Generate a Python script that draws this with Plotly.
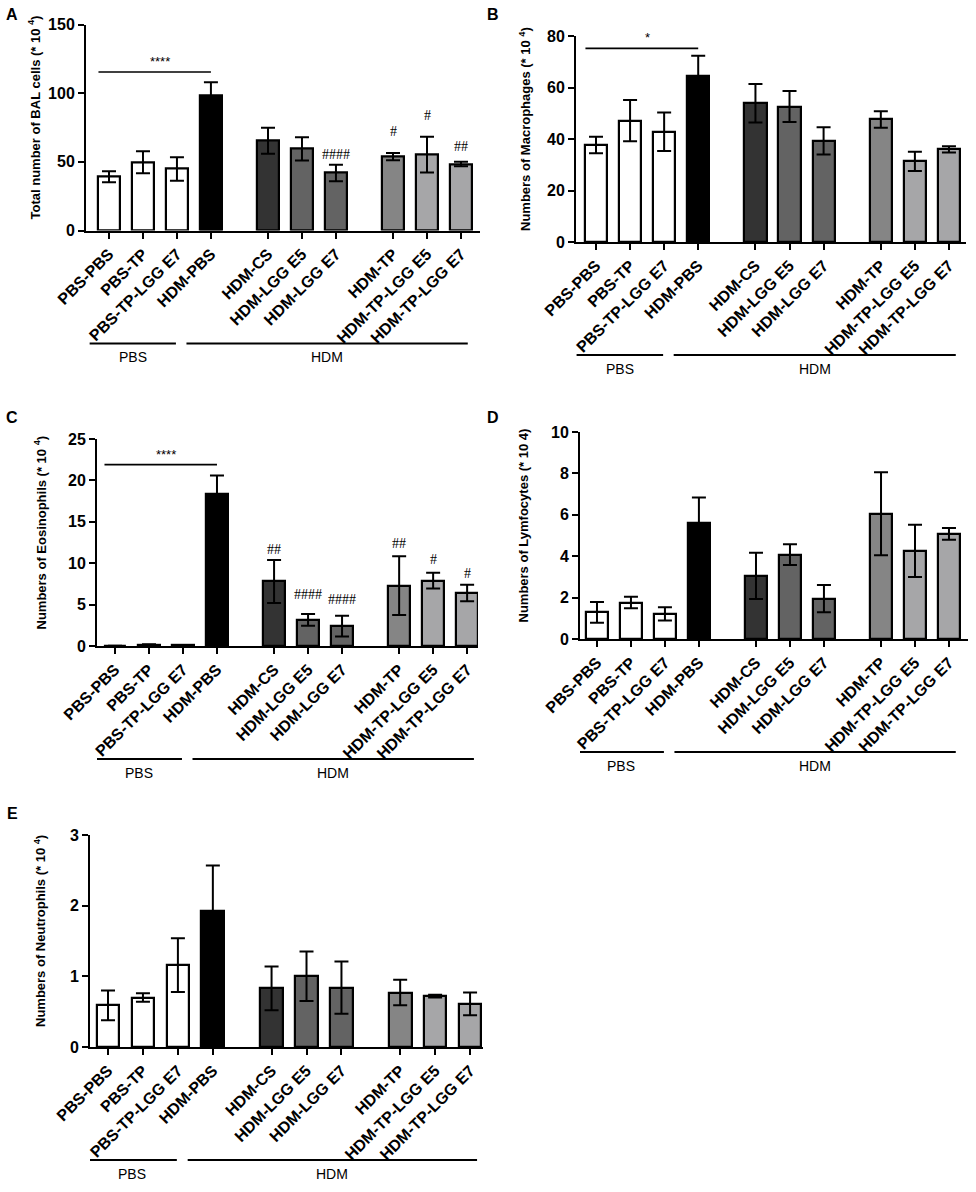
import plotly.graph_objects as go

W, H = 976, 1192

# ---- data (mean and SEM, units of 10^4 cells) ----
categories = ["PBS-PBS", "PBS-TP", "PBS-TP-LGG E7", "HDM-PBS", "HDM-CS",
              "HDM-LGG E5", "HDM-LGG E7", "HDM-TP", "HDM-TP-LGG E5", "HDM-TP-LGG E7"]
positions = [0, 1, 2, 3, 4.68, 5.68, 6.68, 8.36, 9.36, 10.36]
bar_colors = ["#ffffff", "#ffffff", "#ffffff", "#000000", "#333333",
              "#636363", "#636363", "#858585", "#a6a6a8", "#a6a6a8"]

bal_mean = [39.2, 49.7, 44.8, 98.0, 65.4, 59.4, 41.9, 53.8, 55.2, 48.4]
bal_sem = [4.0, 8.0, 8.5, 10.0, 9.5, 8.5, 6.0, 2.7, 13.0, 1.7]

mac_mean = [37.7, 47.1, 42.8, 64.3, 53.9, 52.6, 39.3, 47.6, 31.3, 36.0]
mac_sem = [3.2, 8.0, 7.5, 8.0, 7.5, 6.0, 5.3, 3.2, 3.7, 1.2]

eos_mean = [0.02, 0.15, 0.1, 18.4, 7.8, 3.15, 2.4, 7.3, 7.9, 6.4]
eos_sem = [0.0, 0.05, 0.03, 2.2, 2.6, 0.7, 1.25, 3.55, 0.95, 1.0]

lym_mean = [1.29, 1.76, 1.21, 5.58, 3.05, 4.08, 1.95, 6.05, 4.26, 5.08]
lym_sem = [0.5, 0.28, 0.32, 1.25, 1.12, 0.5, 0.66, 2.0, 1.26, 0.28]

neu_mean = [0.59, 0.70, 1.16, 1.93, 0.83, 1.00, 0.84, 0.77, 0.72, 0.61]
neu_sem = [0.21, 0.06, 0.38, 0.64, 0.31, 0.35, 0.37, 0.18, 0.02, 0.16]

groups = ["PBS", "HDM"]
group_span = [(-0.57, 1.97), (2.28, 10.56)]

# significance marks: (bar index, label, label height in data units)
bal_hash = [(6, "####", 55), (7, "#", 72), (8, "#", 84), (9, "##", 61.5)]
eos_hash = [(4, "##", 11.7), (5, "####", 6.2), (6, "####", 5.6),
            (7, "##", 12.4), (8, "#", 10.5), (9, "#", 8.8)]

panels = [
    dict(letter="A", title="Total number of BAL cells (* 10 <sup>4</sup>)",
         mean=bal_mean, sem=bal_sem, ymax=150, dtick=50,
         star="****", star_y=115.4, hashes=bal_hash,
         px=(86, 480), xr=(-0.677, 10.92), py=(24.5, 230.5),
         title_x=35, letter_xy=(12, 15)),
    dict(letter="B", title="Numbers of Macrophages (* 10 <sup>4</sup>)",
         mean=mac_mean, sem=mac_sem, ymax=80, dtick=20,
         star="*", star_y=75.2, hashes=[],
         px=(576, 966), xr=(-0.587, 10.86), py=(36, 242),
         title_x=525, letter_xy=(493, 15)),
    dict(letter="C", title="Numbers of Eosinophils (* 10 <sup>4</sup>)",
         mean=eos_mean, sem=eos_sem, ymax=25, dtick=5,
         star="****", star_y=21.9, hashes=eos_hash,
         px=(97, 478), xr=(-0.53, 10.68), py=(439, 646),
         title_x=40, letter_xy=(12, 418)),
    dict(letter="D", title="Numbers of Lymfocytes (* 10 4)",
         mean=lym_mean, sem=lym_sem, ymax=10, dtick=2,
         star=None, star_y=None, hashes=[],
         px=(580, 968), xr=(-0.5, 10.92), py=(432, 639),
         title_x=523, letter_xy=(493, 418)),
    dict(letter="E", title="Numbers of Neutrophils (* 10 <sup>4</sup>)",
         mean=neu_mean, sem=neu_sem, ymax=3, dtick=1,
         star=None, star_y=None, hashes=[],
         px=(90, 483), xr=(-0.515, 10.73), py=(835, 1047),
         title_x=40, letter_xy=(12, 813)),
]

BOLD = "Liberation Sans"
fig = go.Figure()
shapes = []
annotations = []
layout = {}


def fx(p):
    return p / W


def fy(p):
    return 1 - p / H


for i, p in enumerate(panels, start=1):
    sfx = "" if i == 1 else str(i)
    xa, ya = "x" + sfx, "y" + sfx

    fig.add_trace(go.Bar(
        x=positions, y=p["mean"], width=0.65,
        marker=dict(color=bar_colors, line=dict(color="black", width=2.2)),
        error_y=dict(type="data", array=p["sem"], visible=True,
                     color="black", thickness=2, width=7),
        xaxis=xa, yaxis=ya, showlegend=False, hoverinfo="x+y",
    ))

    layout["xaxis" + sfx] = dict(
        domain=[fx(p["px"][0]), fx(p["px"][1])], range=list(p["xr"]),
        anchor=ya, tickvals=positions,
        ticktext=["<b>%s</b>" % c for c in categories],
        tickangle=-45, ticks="outside", ticklen=6, tickwidth=2,
        tickcolor="black", showline=True, linewidth=2, linecolor="black",
        showgrid=False, zeroline=False, fixedrange=True, automargin=False,
        tickfont=dict(family=BOLD, size=16, color="black"),
    )
    yt = list(range(0, p["ymax"] + 1, p["dtick"]))
    layout["yaxis" + sfx] = dict(
        domain=[fy(p["py"][1]), fy(p["py"][0])], range=[0, p["ymax"]],
        anchor=xa, tickvals=yt, ticktext=["<b>%d</b>" % v for v in yt],
        ticks="outside", ticklen=6, tickwidth=2, tickcolor="black",
        showline=True, linewidth=2, linecolor="black",
        showgrid=False, zeroline=False, fixedrange=True, automargin=False,
        tickfont=dict(family=BOLD, size=16, color="black"),
    )

    # y-axis title
    annotations.append(dict(
        text="<b>%s</b>" % p["title"], textangle=-90,
        x=fx(p["title_x"]), y=fy((p["py"][0] + p["py"][1]) / 2 - 10),
        xref="paper", yref="paper", xanchor="center", yanchor="middle",
        showarrow=False, font=dict(family=BOLD, size=13, color="black"),
    ))
    # panel letter
    annotations.append(dict(
        text="<b>%s</b>" % p["letter"], x=fx(p["letter_xy"][0]),
        y=fy(p["letter_xy"][1]), xref="paper", yref="paper",
        xanchor="center", yanchor="middle", showarrow=False,
        font=dict(family=BOLD, size=16, color="black"),
    ))

    # significance bar PBS-PBS vs HDM-PBS
    if p["star"]:
        shapes.append(dict(type="line", xref=xa, yref=ya,
                           x0=positions[0] - 0.31, x1=positions[3],
                           y0=p["star_y"], y1=p["star_y"],
                           line=dict(color="black", width=1.6)))
        annotations.append(dict(
            text=p["star"], x=(positions[0] + positions[3]) / 2,
            y=p["star_y"], xref=xa, yref=ya, yanchor="bottom",
            yshift=1, showarrow=False,
            font=dict(family=BOLD, size=13, color="black"),
        ))

    for idx, lab, yv in p["hashes"]:
        annotations.append(dict(
            text=lab, x=positions[idx], y=yv, xref=xa, yref=ya,
            xanchor="center", yanchor="middle", showarrow=False,
            font=dict(family="Liberation Serif", size=14, color="black"),
        ))

    # group brackets below the tick labels
    line_px = p["py"][1] + 113
    for g, (a, b) in zip(groups, group_span):
        shapes.append(dict(type="line", xref=xa, yref="paper",
                           x0=a, x1=b, y0=fy(line_px), y1=fy(line_px),
                           line=dict(color="black", width=2)))
        annotations.append(dict(
            text=g, x=(a + b) / 2, y=fy(line_px + 14), xref=xa,
            yref="paper", xanchor="center", yanchor="middle",
            showarrow=False, font=dict(family=BOLD, size=14, color="black"),
        ))

fig.update_layout(
    width=W, height=H, margin=dict(l=0, r=0, t=0, b=0),
    plot_bgcolor="white", paper_bgcolor="white",
    shapes=shapes, annotations=annotations, bargap=0, **layout,
)

# drop the browser's default 8px page margin so the figure fills the window
fig.write_html("out.html", config={"displayModeBar": False},
               post_script="document.body.style.margin='0px';")
